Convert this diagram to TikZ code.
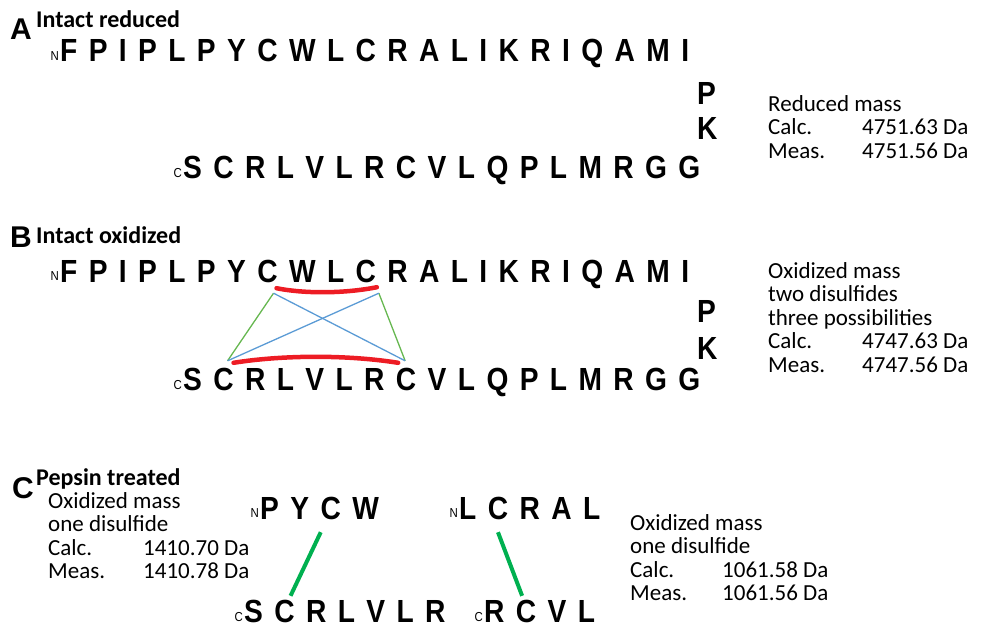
\documentclass[tikz,border=0pt]{standalone}
\usepackage{fontspec}
\setmainfont{Carlito}
\newfontfamily\seqfont[FakeStretch=0.88]{Liberation Sans}
\newfontfamily\labelfont{Liberation Sans}
\usetikzlibrary{positioning, calc}
\definecolor{bondred}{RGB}{237,28,36}
\definecolor{crossblue}{RGB}{91,155,213}
\definecolor{pairgreen}{RGB}{102,183,80}
\definecolor{ssgreen}{RGB}{0,176,80}

\newcommand\seqgap{11pt}
% one residue per node: prefix, position of first residue, residues
\newcommand\peptide[3]{%
  \foreach \res [count=\i] in {#3} {
    \ifnum\i=1
      \node[res, anchor=base west] (#1\i) at #2 {\res};
    \else
      \pgfmathtruncatemacro\j{\i-1}
      \node[res, base right=\seqgap of #1\j] (#1\i) {\res};
    \fi
  }}

\begin{document}
\begin{tikzpicture}[
    x=1pt, y=-1pt,
    res/.style={inner sep=0pt, text height=23pt, text depth=0pt,
                font=\seqfont\bfseries\fontsize{32}{32}\selectfont},
    term/.style={inner sep=0pt, anchor=base east,
                 font=\seqfont\fontsize{13}{13}\selectfont},
    panel/.style={inner sep=0pt, anchor=base west,
                  font=\labelfont\bfseries\fontsize{30}{30}\selectfont},
    heading/.style={inner sep=0pt, anchor=base west,
                    font=\bfseries\fontsize{24}{24}\selectfont},
    info/.style={inner sep=0pt, anchor=base west, font=\fontsize{23}{23.5}\selectfont},
    ssarc/.style={draw=bondred, line width=4.5pt, line cap=round},
    pairline/.style={draw=pairgreen, line width=1.3pt},
    crossline/.style={draw=crossblue, line width=1.3pt},
    ssbond/.style={draw=ssgreen, line width=4pt}
]
\useasboundingbox (0,0) rectangle (987,634);

% A: intact reduced
\node[panel] (labA) at (10,40) {A};
\node[heading] (headA) at (36,28) {Intact reduced};
\peptide{ra}{(60,62)}{F,P,I,P,L,P,Y,C,W,L,C,R,A,L,I,K,R,I,Q,A,M,I}
\peptide{rb}{(183,178)}{S,C,R,L,V,L,R,C,V,L,Q,P,L,M,R,G,G}
\node[term] at ([xshift=-1pt,yshift=2pt]ra1.base west) {N};
\node[term] at ([xshift=-1pt,yshift=1pt]rb1.base west) {C};
\node[res, anchor=base west] (pA) at (697,104) {P};
\node[res, anchor=base west] (kA) at (697,139) {K};
\node[info] (massA) at (768,111) {\begin{tabular}[t]{@{}p{94pt}@{}l@{}}
  \multicolumn{2}{@{}l@{}}{Reduced mass}\\
  Calc. & 4751.63 Da\\
  Meas. & 4751.56 Da
\end{tabular}};

% B: intact oxidized
\node[panel] (labB) at (10,247) {B};
\node[heading] (headB) at (36,243) {Intact oxidized};
\peptide{sa}{(60,282)}{F,P,I,P,L,P,Y,C,W,L,C,R,A,L,I,K,R,I,Q,A,M,I}
\peptide{sb}{(183,390)}{S,C,R,L,V,L,R,C,V,L,Q,P,L,M,R,G,G}
\node[term] at ([xshift=-1pt,yshift=2pt]sa1.base west) {N};
\node[term] at ([xshift=-1pt,yshift=1pt]sb1.base west) {C};
\node[res, anchor=base west] (pB) at (697,322) {P};
\node[res, anchor=base west] (kB) at (697,359) {K};
\node[info] (massB) at (768,278) {\begin{tabular}[t]{@{}p{94pt}@{}l@{}}
  \multicolumn{2}{@{}l@{}}{Oxidized mass}\\
  \multicolumn{2}{@{}l@{}}{two disulfides}\\
  \multicolumn{2}{@{}l@{}}{three possibilities}\\
  Calc. & 4747.63 Da\\
  Meas. & 4747.56 Da
\end{tabular}};

% cysteine ends of the possible bonds
\coordinate (cysT1) at ($(sa8.south)+(6,11)$);
\coordinate (cysT2) at ($(sa11.south)+(13,11)$);
\coordinate (cysB1) at ($(sb2.north)+(4,-6)$);
\coordinate (cysB2) at ($(sb8.north)+(-1,-6)$);
\draw[pairline] (cysT1) -- (cysB1);
\draw[pairline] (cysT2) -- (cysB2);
\draw[crossline] (cysT1) -- (cysB2);
\draw[crossline] (cysT2) -- (cysB1);
% the two disulfides
\coordinate (arcT1) at ($(sa8.south)+(9,6)$);
\coordinate (arcT2) at ($(sa11.south)+(11,5)$);
\coordinate (arcB1) at ($(sb2.north)+(10,-4)$);
\coordinate (arcB2) at ($(sb8.north)+(-8,-4)$);
\draw[ssarc] (arcT1) .. controls +(30,6) and +(-30,6) .. (arcT2);
\draw[ssarc] (arcB1) .. controls +(50,-8) and +(-50,-8) .. (arcB2);

% C: pepsin treated
\node[panel] (labC) at (12,498) {C};
\node[heading] (headC) at (36,485) {Pepsin treated};
\node[info] (massC1) at (48,508) {\begin{tabular}[t]{@{}p{95pt}@{}l@{}}
  \multicolumn{2}{@{}l@{}}{Oxidized mass}\\
  \multicolumn{2}{@{}l@{}}{one disulfide}\\
  Calc. & 1410.70 Da\\
  Meas. & 1410.78 Da
\end{tabular}};
\node[info] (massC2) at (630,530) {\begin{tabular}[t]{@{}p{92pt}@{}l@{}}
  \multicolumn{2}{@{}l@{}}{Oxidized mass}\\
  \multicolumn{2}{@{}l@{}}{one disulfide}\\
  Calc. & 1061.58 Da\\
  Meas. & 1061.56 Da
\end{tabular}};
\peptide{pa}{(260,519)}{P,Y,C,W}
\peptide{pb}{(459,519)}{L,C,R,A,L}
\peptide{qa}{(244,622)}{S,C,R,L,V,L,R}
\peptide{qb}{(484,622)}{R,C,V,L}
\node[term] at ([xshift=-1pt,yshift=2pt]pa1.base west) {N};
\node[term] at ([xshift=-1pt,yshift=2pt]pb1.base west) {N};
\node[term] at ([xshift=-1pt,yshift=1pt]qa1.base west) {C};
\node[term] at ([xshift=-1pt,yshift=1pt]qb1.base west) {C};
\draw[ssbond] ($(pa3.south)+(-10,13)$) -- ($(qa2.north)+(6,-3)$);
\draw[ssbond] ($(pb2.south)+(0,13)$) -- ($(qb2.north)+(-4,-3)$);
\end{tikzpicture}
\end{document}
